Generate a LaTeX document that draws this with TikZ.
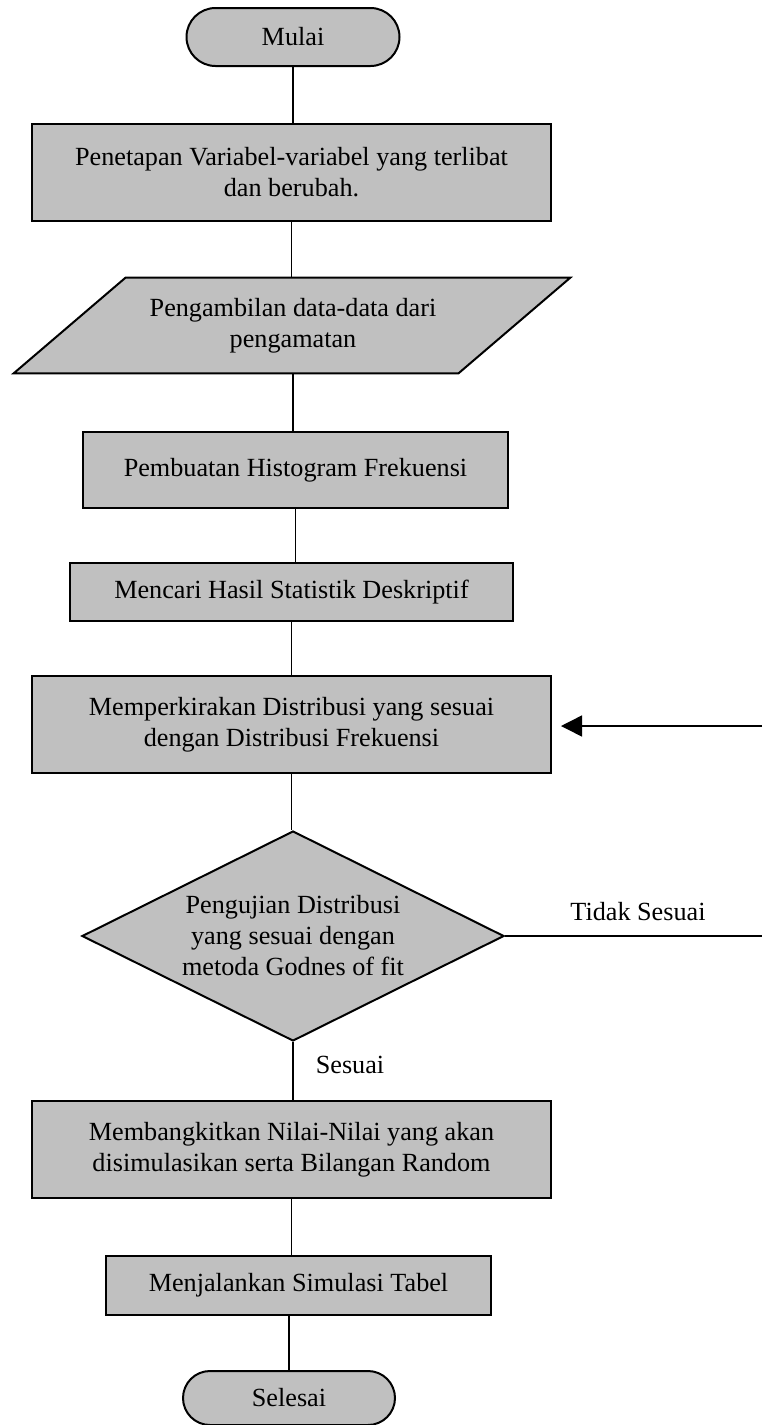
\documentclass[tikz,border=0pt]{standalone}
\usepackage{fontspec}
\setmainfont{Liberation Serif}
\usetikzlibrary{positioning,arrows.meta,calc,shapes.geometric,shapes.misc,backgrounds}
\definecolor{boxfill}{HTML}{C0C0C0}
\tikzset{
  fl/.style={align=center, font=\fontsize{13.1}{15.5}\selectfont, inner sep=0pt},
  fl box/.style={fl, rectangle, draw=black, line width=1pt, fill=boxfill},
  fl term/.style={fl, rounded rectangle, draw=black, line width=1pt, fill=boxfill},
  fl dec/.style={fl, diamond, aspect=2, draw=black, line width=1pt, fill=boxfill},
  fl io/.style={fl, rectangle},
  fl shape/.style={fill=boxfill, draw=black, line width=1pt},
  fl line/.style={line width=0.75pt, black},
  fl arr/.style={fl line, -{Triangle[length=10.5pt, width=10.5pt]}},
  fl lab/.style={fl},
}

\begin{document}
\begin{tikzpicture}[x=0.5pt, y=-0.5pt]
  \useasboundingbox (0,0) rectangle (762,1425);
  % main column, top to bottom
  \node[fl term, minimum width=106.5pt, minimum height=29pt] (mulai) at (293,37) {Mulai};
  \node[fl box, minimum width=259.5pt, minimum height=48.5pt] (tetap) at (291.5,172.5) {Penetapan Variabel-variabel yang terlibat\\dan berubah.};
  \node[fl io, minimum width=222pt, minimum height=47.5pt] (ambil) at (293,325.5) {Pengambilan data-data dari\\pengamatan};
  \begin{scope}[on background layer]
    \path[fl shape] ($(ambil.south west)+(-57,0)$) -- ($(ambil.south east)+(-57,0)$)
      -- ($(ambil.north east)+(55,0)$) -- ($(ambil.north west)+(55,0)$) -- cycle;
  \end{scope}
  \node[fl box, minimum width=212.5pt, minimum height=38pt] (hist) at (295.5,470) {Pembuatan Histogram Frekuensi};
  \node[fl box, minimum width=221.5pt, minimum height=29pt] (cari) at (291.5,592) {Mencari Hasil Statistik Deskriptif};
  \node[fl box, minimum width=259.5pt, minimum height=48.5pt] (kira) at (291.5,724.5) {Memperkirakan Distribusi yang sesuai\\dengan Distribusi Frekuensi};
  \node[fl dec, minimum width=211pt, minimum height=105pt] (uji) at (293,936) {Pengujian Distribusi\\yang sesuai dengan\\metoda Godnes of fit};
  \node[fl box, minimum width=259.5pt, minimum height=48.5pt] (bangkit) at (291.5,1149.5) {Membangkitkan Nilai-Nilai yang akan\\disimulasikan serta Bilangan Random};
  \node[fl box, minimum width=192.5pt, minimum height=29.5pt] (jalan) at (298.5,1285.5) {Menjalankan Simulasi Tabel};
  \node[fl term, minimum width=106pt, minimum height=27pt] (selesai) at (289,1398) {Selesai};
  \foreach \a/\b in {mulai/tetap,tetap/ambil,ambil/hist,hist/cari,kira/uji,uji/bangkit,bangkit/jalan}
    \draw[fl line] (\a.south) -- (\a.south |- \b.north);
  \draw[fl line] (kira.north) -- (kira.north |- cari.south);
  \draw[fl line] (selesai.north) -- (selesai.north |- jalan.south);
  % branch back to the estimate
  \coordinate (rt) at (762,726);
  \coordinate (rb) at (762,936);
  \draw[fl line] (uji.east) -- (rb);
  \draw[fl arr, shorten >=4.5pt] (rt) -- (kira.east |- rt);
  \node[fl lab] (tidak) at (638,912) {Tidak Sesuai};
  \node[fl lab] (sesuai) at (350,1065) {Sesuai};
\end{tikzpicture}
\end{document}
